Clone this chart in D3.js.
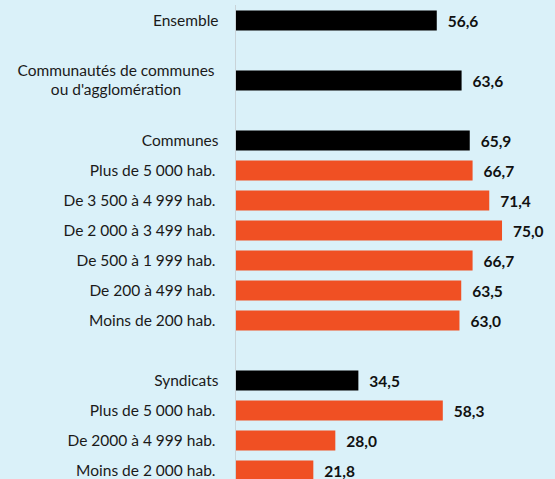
<!DOCTYPE html>
<html><head><meta charset="utf-8">
<script src="https://cdn.jsdelivr.net/npm/d3@7"></script>
<style>html,body{margin:0;padding:0;background:#daf1f9;}svg{display:block;}</style>
</head><body>
<script>
const labels = ["Ensemble", "", "Communautés de communes\nou d'agglomération", "", "Communes",
  "Plus de 5 000 hab.", "De 3 500 à 4 999 hab.", "De 2 000 à 3 499 hab.", "De 500 à 1 999 hab.",
  "De 200 à 499 hab.", "Moins de 200 hab.", "", "Syndicats", "Plus de 5 000 hab.",
  "De 2000 à 4 999 hab.", "Moins de 2 000 hab."];
const values = [56.6, null, 63.6, null, 65.9, 66.7, 71.4, 75.0, 66.7, 63.5, 63.0, null, 34.5, 58.3, 28.0, 21.8];
const kinds = ["total", "", "total", "", "total", "sub", "sub", "sub", "sub", "sub", "sub", "", "total", "sub", "sub", "sub"];

const W = 555, H = 479;
const svg = d3.select("body").append("svg").attr("width", W).attr("height", H);
svg.append("rect").attr("width", W).attr("height", H).attr("fill", "#daf1f9");

const data = labels.map((l, i) => ({ key: i, label: l, value: values[i], kind: kinds[i] }));
const y = d3.scaleBand().domain(data.map(d => d.key)).range([5, 485]).paddingInner(1/3).paddingOuter(1/6);
const x = d3.scaleLinear().domain([0, 100]).range([236, 590.7]);
const color = { total: "#000000", sub: "#f05023" };

svg.append("line").attr("x1", 235.5).attr("x2", 235.5).attr("y1", 5).attr("y2", H)
  .attr("stroke", "#c9d3d8").attr("stroke-width", 1);

const bars = data.filter(d => d.value != null);
svg.selectAll("rect.bar").data(bars).join("rect").attr("class", "bar")
  .attr("x", x(0)).attr("y", d => y(d.key) + 0.5)
  .attr("width", d => x(d.value) - x(0)).attr("height", y.bandwidth())
  .attr("fill", d => color[d.kind]);

svg.selectAll("text.val").data(bars).join("text").attr("class", "val")
  .attr("x", d => x(d.value) + 11).attr("y", d => y(d.key) + y.bandwidth() / 2 + 1.5)
  .attr("dy", "0.35em")
  .attr("font-family", "Lato, sans-serif").attr("font-weight", "bold").attr("font-size", 15.5)
  .attr("fill", "#111").text(d => d3.format(".1f")(d.value).replace(".", ","));

const lab = svg.selectAll("text.lab").data(data.filter(d => d.label)).join("text").attr("class", "lab")
  .attr("font-family", "Lato, sans-serif").attr("font-size", 15.5).attr("fill", "#1a1a1a");
lab.each(function(d) {
  const t = d3.select(this);
  const lines = d.label.split("\n");
  const cy = y(d.key) + y.bandwidth() / 2 + 0.5;
  if (lines.length > 1) {
    t.attr("text-anchor", "middle");
    lines.forEach((ln, j) => {
      t.append("tspan").attr("x", 116).attr("y", cy + (j - (lines.length - 1) / 2) * 19 - 0.5)
        .attr("dy", "0.35em").text(ln);
    });
  } else {
    t.attr("text-anchor", "end").attr("x", d.kind === "total" ? 218.5 : 215.5)
      .attr("y", cy).attr("dy", "0.35em").text(d.label);
  }
});
</script>
</body></html>
